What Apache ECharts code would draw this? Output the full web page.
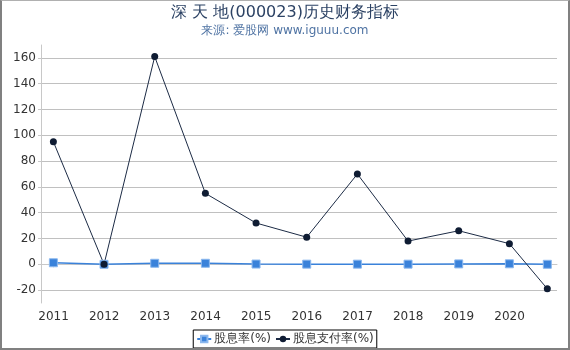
<!DOCTYPE html>
<html>
<head>
<meta charset="utf-8">
<script src="https://cdn.jsdelivr.net/npm/echarts@6/dist/echarts.min.js"></script>
<style>
  html, body { margin: 0; padding: 0; background: #fff; }
  #wrap { position: relative; width: 570px; height: 350px; }
  #main { width: 570px; height: 350px; }
  #frame { position: absolute; left: 0; top: 0; width: 570px; height: 350px; box-sizing: border-box;
    border-left: 2px solid #808080; border-right: 2px solid #808080;
    border-bottom: 2px solid #808080; border-top: 1px solid #b0b0b0; pointer-events: none; }
</style>
</head>
<body>
<div id="wrap"><div id="main"></div><div id="frame"></div></div>
<script>
// report dates (year-end, last one is Q3)
var dates = ['2010-12-31', '2011-12-31', '2012-12-31', '2013-12-31', '2014-12-31',
  '2015-12-31', '2016-12-31', '2017-12-31', '2018-12-31', '2019-12-31', '2020-09-30'];
var yearLabels = [2011, 2012, 2013, 2014, 2015, 2016, 2017, 2018, 2019, 2020];
var yTicks = [-20, 0, 20, 40, 60, 80, 100, 120, 140, 160];
var dividendYield = [1.2, 0, 0.8, 0.8, 0.2, 0.1, 0.1, 0.1, 0.3, 0.4, 0];
var payoutRatio = [95, 0, 161, 55, 32, 21, 70, 18, 26, 16, -19];

// date string -> fractional year
function toYear(s) {
  var d = new Date(s + 'T00:00:00Z');
  var y = d.getUTCFullYear();
  var start = Date.UTC(y, 0, 1), end = Date.UTC(y + 1, 0, 1);
  return y + (d.getTime() - start) / (end - start);
}
function pairs(vals) {
  return vals.map(function (v, i) { return [toYear(dates[i]), v]; });
}

var chart = echarts.init(document.getElementById('main'));
var option = {
  animation: false,
  title: {
    text: '深 天 地(000023)历史财务指标',
    subtext: '来源: 爱股网 www.iguuu.com',
    left: 'center',
    top: 0,
    itemGap: 4,
    textStyle: { fontSize: 16, fontWeight: 'normal', color: '#2c4264', fontFamily: 'DejaVu Sans' },
    subtextStyle: { fontSize: 12, color: '#4f73a3', fontFamily: 'DejaVu Sans' }
  },
  legend: {
    bottom: 2,
    left: 'center',
    borderColor: '#000',
    borderWidth: 1,
    borderRadius: 0,
    padding: [3, 3],
    itemGap: 4,
    itemWidth: 14,
    itemHeight: 8,
    textStyle: { fontSize: 12, color: '#333', fontFamily: 'DejaVu Sans', padding: [0, 0, 0, -2] },
    data: ['股息率(%)', '股息支付率(%)']
  },
  grid: { left: 41, right: 13, top: 45, bottom: 47 },
  xAxis: {
    type: 'value',
    min: 2010.753,
    max: 2020.937,
    axisLine: { show: true, lineStyle: { color: '#c8c8c8' } },
    axisTick: { show: true, length: 3, customValues: yearLabels, lineStyle: { color: '#c8c8c8' } },
    axisLabel: { customValues: yearLabels, color: '#333', fontSize: 12, margin: 8,
      fontFamily: 'DejaVu Sans', formatter: function (v) { return String(v); } },
    splitLine: { show: false }
  },
  yAxis: {
    type: 'value',
    min: -30,
    max: 170,
    axisLine: { show: true, lineStyle: { color: '#c8c8c8' } },
    axisTick: { show: true, length: 3, customValues: yTicks, lineStyle: { color: '#c8c8c8' } },
    axisLabel: { customValues: yTicks, color: '#333', fontSize: 12, margin: 5, fontFamily: 'DejaVu Sans' },
    splitLine: { show: true, lineStyle: { color: '#c0c0c0' } }
  },
  series: [
    {
      name: '股息率(%)',
      type: 'line',
      data: pairs(dividendYield),
      symbol: 'rect',
      symbolSize: 8,
      lineStyle: { color: '#3a82da', width: 1.5 },
      itemStyle: { color: '#3a82da', borderColor: '#8cb8ee', borderWidth: 1 }
    },
    {
      name: '股息支付率(%)',
      type: 'line',
      data: pairs(payoutRatio),
      symbol: 'circle',
      symbolSize: 7,
      lineStyle: { color: '#1c2b45', width: 1 },
      itemStyle: { color: '#0f1c33' }
    }
  ]
};
chart.setOption(option);
</script>
</body>
</html>
